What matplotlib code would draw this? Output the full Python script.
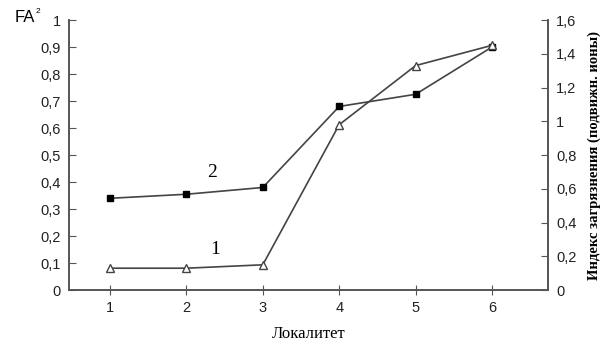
import numpy as np
import matplotlib.pyplot as plt
from matplotlib.ticker import FuncFormatter

localities = [1, 2, 3, 4, 5, 6]
fa2 = [0.34, 0.355, 0.38, 0.68, 0.725, 0.90]          # curve 2, left axis
pollution = [0.13, 0.13, 0.15, 0.98, 1.33, 1.45]       # curve 1, right axis

comma = FuncFormatter(lambda v, p: ('%g' % round(v, 2)).replace('.', ','))
sans = 'Liberation Sans'
serif = 'Liberation Serif'
gray = '#444444'

fig = plt.figure(figsize=(6, 3.45), dpi=100)
ax = fig.add_axes([0.115, 0.159, 0.798, 0.783])
ax2 = ax.twinx()

ax.plot(localities, fa2, color=gray, lw=1.2, marker='s', ms=5,
        mfc='black', mec='black', zorder=3)
ax2.plot(localities, pollution, color=gray, lw=1.2, marker='^', ms=6,
         mfc='white', mec=gray, zorder=3)

ax.set_xlim(0.464, 6.73)
ax.set_ylim(0, 1)
ax2.set_ylim(0, 1.6)
ax.set_xticks(localities)
ax.set_yticks(np.arange(0, 1.01, 0.1))
ax2.set_yticks(np.arange(0, 1.61, 0.2))
ax.yaxis.set_major_formatter(comma)
ax2.yaxis.set_major_formatter(comma)

for a in (ax, ax2):
    a.spines['top'].set_visible(False)
    for s in a.spines.values():
        s.set_color('#555555')
        s.set_linewidth(1.2)
    for lab in a.get_xticklabels() + a.get_yticklabels():
        lab.set_family(sans)
        lab.set_fontsize(10.5)
        lab.set_color('#222222')
ax.tick_params(axis='y', direction='in', length=5, color='#555555', pad=6)
ax.tick_params(axis='x', direction='inout', length=7, color='#555555', pad=4)
ax2.tick_params(axis='y', direction='in', length=5, color='#555555', pad=6)

ax.text(2.27, 0.42, '2', family=serif, fontsize=14)
ax.text(2.31, 0.135, '1', family=serif, fontsize=14)

ax.set_xlabel('Локалитет', family=serif, fontsize=12, labelpad=8)
fig.text(0.025, 0.935, 'FA', family=sans, fontsize=12)
fig.text(0.059, 0.962, '2', family=sans, fontsize=6)
ax2.set_ylabel('Индекс загрязнения (подвижн. ионы)', family=serif,
               fontsize=10.5, fontweight='bold', labelpad=8)

fig.savefig('out.png', dpi=100)
